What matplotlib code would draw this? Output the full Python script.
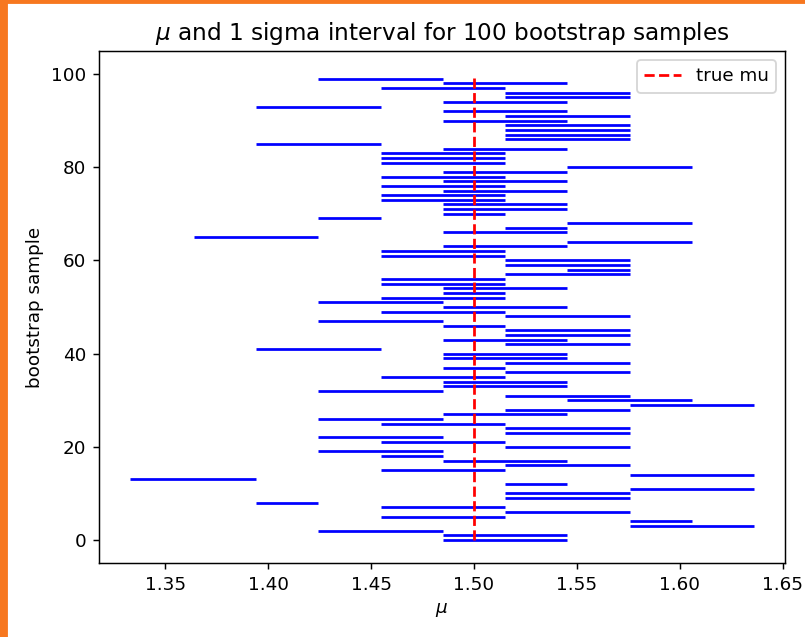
import matplotlib
matplotlib.use("Agg")
import matplotlib.pyplot as plt
from matplotlib.patches import Rectangle

# interval endpoints (mu - sigma, mu + sigma) for each bootstrap sample 0..99
lows = [
    1.485, 1.485, 1.424, 1.576, 1.576, 1.455, 1.515, 1.455, 1.394, 1.515,
    1.515, 1.576, 1.515, 1.333, 1.576, 1.455, 1.515, 1.485, 1.455, 1.424,
    1.515, 1.455, 1.424, 1.515, 1.515, 1.455, 1.424, 1.485, 1.515, 1.576,
    1.545, 1.515, 1.424, 1.485, 1.485, 1.455, 1.515, 1.485, 1.515, 1.485,
    1.485, 1.394, 1.515, 1.485, 1.515, 1.515, 1.485, 1.424, 1.515, 1.455,
    1.485, 1.424, 1.455, 1.485, 1.485, 1.455, 1.455, 1.515, 1.545, 1.515,
    1.515, 1.455, 1.455, 1.485, 1.545, 1.364, 1.485, 1.515, 1.545, 1.424,
    1.485, 1.485, 1.485, 1.455, 1.455, 1.485, 1.455, 1.485, 1.455, 1.485,
    1.545, 1.455, 1.455, 1.455, 1.485, 1.394, 1.515, 1.515, 1.515, 1.515,
    1.485, 1.515, 1.485, 1.394, 1.485, 1.515, 1.515, 1.455, 1.485, 1.424,
]
highs = [
    1.545, 1.545, 1.485, 1.636, 1.606, 1.515, 1.576, 1.515, 1.424, 1.576,
    1.576, 1.636, 1.545, 1.394, 1.636, 1.515, 1.576, 1.545, 1.485, 1.485,
    1.576, 1.515, 1.485, 1.576, 1.576, 1.515, 1.485, 1.545, 1.576, 1.636,
    1.606, 1.576, 1.485, 1.545, 1.545, 1.515, 1.576, 1.515, 1.576, 1.545,
    1.545, 1.455, 1.576, 1.545, 1.576, 1.576, 1.515, 1.485, 1.576, 1.515,
    1.545, 1.485, 1.515, 1.515, 1.545, 1.515, 1.515, 1.576, 1.576, 1.576,
    1.576, 1.515, 1.515, 1.545, 1.606, 1.424, 1.545, 1.545, 1.606, 1.455,
    1.515, 1.545, 1.545, 1.515, 1.515, 1.545, 1.515, 1.545, 1.515, 1.545,
    1.606, 1.515, 1.515, 1.515, 1.545, 1.455, 1.576, 1.576, 1.576, 1.576,
    1.545, 1.576, 1.545, 1.455, 1.545, 1.576, 1.576, 1.515, 1.545, 1.485,
]
samples = list(range(len(lows)))
true_mu = 1.5
n_boot = 100

dpi = 132
fig = plt.figure(figsize=(805 / dpi, 637 / dpi), dpi=dpi)
ax = fig.add_axes([0.123, 0.1157, 0.8522, 0.8047])

ax.hlines(samples, lows, highs, colors="b")
ax.vlines(true_mu, 0, n_boot, colors="r", linestyles="--", label="true mu")

ax.set_title(r"$\mu$ and 1 sigma interval for 100 bootstrap samples", fontsize=12.6)
ax.set_xlabel(r"$\mu$")
ax.set_ylabel("bootstrap sample")
ax.legend(loc="upper right")

# orange frame strips (left and top)
fig.patches.append(Rectangle((0, 0), 7 / 805, 1, transform=fig.transFigure,
                             color="#f7771f", zorder=10))
fig.patches.append(Rectangle((0, 1 - 3 / 637), 1, 3 / 637, transform=fig.transFigure,
                             color="#f7771f", zorder=10))

fig.savefig("out.png", dpi=dpi)
